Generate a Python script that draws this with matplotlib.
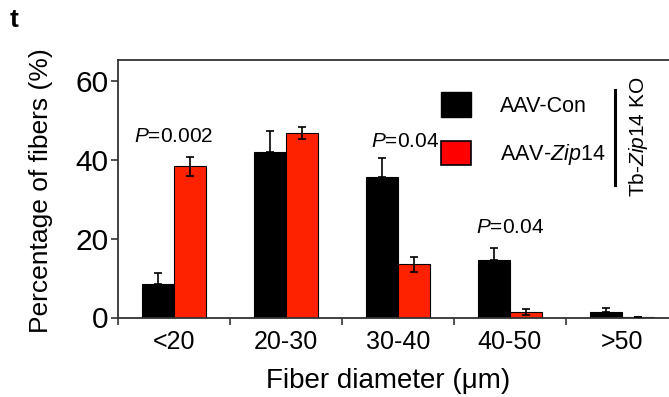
import matplotlib
matplotlib.use("Agg")
import matplotlib.pyplot as plt
from matplotlib.patches import Patch
import numpy as np

plt.rcParams['font.family'] = ['Liberation Sans', 'DejaVu Sans']
plt.rcParams['mathtext.fontset'] = 'custom'
plt.rcParams['mathtext.rm'] = 'Liberation Sans'
plt.rcParams['mathtext.it'] = 'Liberation Sans:italic'

categories = ['<20', '20-30', '30-40', '40-50', '>50']
con_mean = [8.4, 42.0, 35.6, 14.7, 1.5]
con_err = [3.0, 5.4, 4.8, 2.8, 0.8]
zip_mean = [38.3, 46.8, 13.5, 1.4, 0.2]
zip_err = [2.5, 1.6, 1.9, 0.8, 0.0]
series_labels = ['AAV-Con', 'AAV-$\\mathit{Zip14}$']
p_labels = ['0.002', '0.04', '0.04']
p_groups = [0, 2, 3]
p_heights = [44.6, 43.3, 21.4]
p_xoff = [0.0, 0.06, 0.0]

W, H = 669, 397
fig = plt.figure(figsize=(W / 100, H / 100), dpi=100)
ax = fig.add_axes([118 / W, 79.5 / H, 560 / W, 257.5 / H])

x = np.arange(len(categories))
bw = 0.285
ecol = 'black'
ax.bar(x - bw / 2, con_mean, bw, color='black', edgecolor='black', linewidth=0.8, zorder=2)
ax.bar(x + bw / 2, zip_mean, bw, color='#ff2200', edgecolor='black', linewidth=0.8, zorder=2)
ax.errorbar(x - bw / 2, con_mean, yerr=[np.zeros(len(con_err)), con_err], fmt='none',
            ecolor=ecol, elinewidth=1.2, capsize=3, capthick=1.2, zorder=3)
ax.errorbar(x + bw / 2, zip_mean, yerr=zip_err, fmt='none', ecolor=ecol, elinewidth=1.2,
            capsize=3, capthick=1.2, zorder=3)

for g, lab, h, dx in zip(p_groups, p_labels, p_heights, p_xoff):
    ax.text(g + dx, h, '$\\mathit{P}$=' + lab, ha='center', va='baseline', fontsize=15)

ax.set_xlim(-0.5, 4.5)
ax.set_ylim(0, 65.3)
ax.set_yticks([0, 20, 40, 60])
ax.set_xticks(x)
ax.set_xticklabels(categories)
ax.set_xticks(np.arange(-0.5, 5, 1), minor=True)
ax.tick_params(axis='x', which='major', length=0, labelsize=18, pad=9)
ax.tick_params(axis='x', which='minor', length=5, width=1.2, color='#333333')
ax.tick_params(axis='y', length=5, width=1.2, color='#333333', labelsize=21.5, pad=2)
for s in ['left', 'bottom', 'top', 'right']:
    ax.spines[s].set_color('#333333')
    ax.spines[s].set_linewidth(1.3)

handles = [Patch(facecolor='black', edgecolor='black'),
           Patch(facecolor='#ff0000', edgecolor='black', linewidth=1.2)]
ax.legend(handles, series_labels, loc='upper left', bbox_to_anchor=(441 / W, 1 - 92 / H),
          bbox_transform=fig.transFigure, frameon=False, fontsize=15.5,
          handlelength=1.4, handleheight=1.4, handletextpad=1.35, labelspacing=1.1,
          borderpad=0, borderaxespad=0)

fig.add_artist(plt.Line2D([615 / W, 615 / W], [1 - 90 / H, 1 - 185 / H], color='black',
                          linewidth=2.2, transform=fig.transFigure))
fig.text(638 / W, 1 - 137 / H, 'Tb-$\\mathit{Zip14}$ KO', rotation=90, ha='center', va='center',
         fontsize=15)

fig.text(41 / W, 1 - 191 / H, 'Percentage of fibers (%)', rotation=90, ha='center', va='center',
         fontsize=19)
fig.text(388 / W, 1 - 388 / H, 'Fiber diameter (\u03bcm)', ha='center', va='baseline', fontsize=20)
fig.text(10 / W, 1 - 27 / H, 't', fontsize=19, fontweight='bold', ha='left', va='baseline')

fig.savefig('out.png', dpi=100)
